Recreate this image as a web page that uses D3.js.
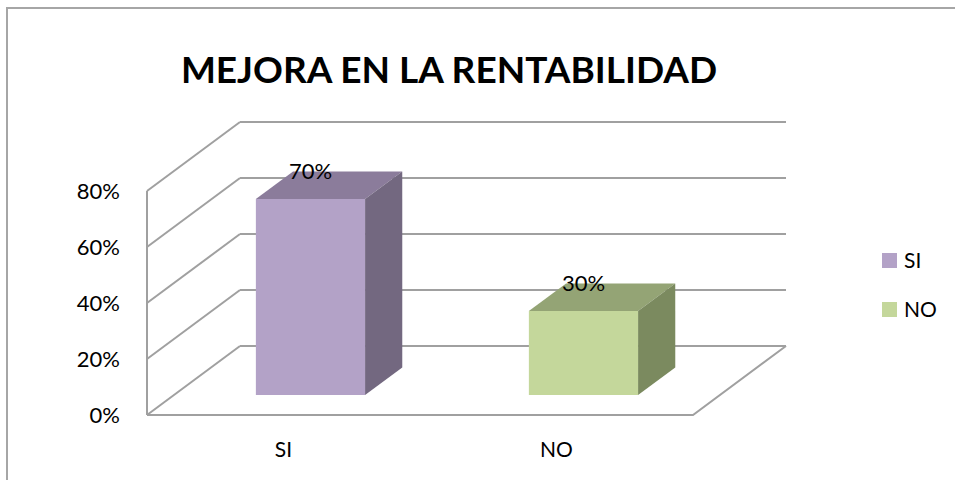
<!DOCTYPE html>
<html>
<head>
<meta charset="utf-8">
<script src="https://cdn.jsdelivr.net/npm/d3@7"></script>
<style>
  body { margin: 0; background: #fff; }
  text { font-family: Lato, "Open Sans", sans-serif; fill: #000; }
</style>
</head>
<body>
<script>
// chart values
var categories = ["SI", "NO"];
var values = [0.70, 0.30];
var yTicks = [0, 0.2, 0.4, 0.6, 0.8];
var frontColors = ["#b3a2c7", "#c4d79b"];
var topColors = ["#8b7c9b", "#94a475"];
var sideColors = ["#736880", "#7b8a5f"];

var width = 955,
    height = 480;

var svg = d3.select("body").append("svg")
    .attr("width", width)
    .attr("height", height);

// outer chart border (runs off the right and bottom edge)
svg.append("rect")
    .attr("x", 7).attr("y", 8)
    .attr("width", 1000).attr("height", 600)
    .attr("fill", "none")
    .attr("stroke", "#a6a6a6")
    .attr("stroke-width", 2);

svg.append("text")
    .attr("x", 449).attr("y", 83)
    .attr("text-anchor", "middle")
    .style("font-weight", "bold")
    .style("font-size", "37px")
    .text("MEJORA EN LA RENTABILIDAD");

// scales: x along the front floor edge, y on the front plane, z = depth 0..1
var x = d3.scaleBand().domain(categories).range([147, 693]);
var y = d3.scaleLinear().domain([0, 0.8]).range([415, 191]);
var depthX = d3.scaleLinear().domain([0, 1]).range([0, 93]);
var depthY = d3.scaleLinear().domain([0, 1]).range([0, -69]);

function pt(px, py, z) {
    return [px + depthX(z), py + depthY(z)];
}

var grid = svg.append("g")
    .attr("fill", "none")
    .attr("stroke", "#a0a0a0")
    .attr("stroke-width", 2);

var x0 = x.range()[0], x1 = x.range()[1];

// back wall gridlines
grid.selectAll(".back").data(yTicks).enter().append("line")
    .attr("x1", pt(x0, y(0), 1)[0])
    .attr("x2", pt(x1, y(0), 1)[0])
    .attr("y1", d => pt(x0, y(d), 1)[1])
    .attr("y2", d => pt(x0, y(d), 1)[1]);

// side wall diagonals
grid.selectAll(".side").data(yTicks).enter().append("line")
    .attr("x1", x0)
    .attr("y1", d => y(d))
    .attr("x2", pt(x0, y(0), 1)[0])
    .attr("y2", d => pt(x0, y(d), 1)[1]);

// front vertical axis line
grid.append("line")
    .attr("x1", x0).attr("x2", x0)
    .attr("y1", y(0)).attr("y2", y(0.8));

// floor front edge and right edge
grid.append("path")
    .attr("d", d3.line()([[x0, y(0)], [x1, y(0)], pt(x1, y(0), 1)]));

// y labels
svg.selectAll(".ylab").data(yTicks).enter().append("text")
    .attr("x", 120)
    .attr("y", d => y(d))
    .attr("dy", "0.35em")
    .attr("text-anchor", "end")
    .style("font-size", "22px")
    .text(d => d3.format(".0%")(d));

// category labels
svg.selectAll(".xlab").data(categories).enter().append("text")
    .attr("x", d => x(d) + x.bandwidth() / 2)
    .attr("y", 450)
    .attr("dy", "0.35em")
    .attr("text-anchor", "middle")
    .style("font-size", "21px")
    .text(d => d);

// 3d bars
var barW = x.bandwidth() * 0.4;
var zFront = 0.29, zBack = 0.69;

var bars = svg.selectAll(".bar").data(categories).enter().append("g");

bars.each(function(d, i) {
    var g = d3.select(this);
    var left = x(d) + (x.bandwidth() - barW) / 2;
    var right = left + barW;
    var top = y(values[i]), bottom = y(0);
    var fl = pt(left, bottom, zFront), ft = pt(left, top, zFront);
    var fr = pt(right, top, zFront), fb = pt(right, bottom, zFront);
    var bt = pt(left, top, zBack), br = pt(right, top, zBack), bb = pt(right, bottom, zBack);

    g.append("path")
        .attr("d", d3.line()([ft, fr, br, bt]) + "Z")
        .attr("fill", topColors[i]);
    g.append("path")
        .attr("d", d3.line()([fr, br, bb, fb]) + "Z")
        .attr("fill", sideColors[i]);
    g.append("path")
        .attr("d", d3.line()([fl, ft, fr, fb]) + "Z")
        .attr("fill", frontColors[i]);

    g.append("text")
        .attr("x", (fl[0] + fb[0]) / 2)
        .attr("y", bt[1])
        .attr("dy", "0.35em")
        .attr("text-anchor", "middle")
        .style("font-size", "22px")
        .text(d3.format(".0%")(values[i]));
});

// legend
var legend = svg.selectAll(".legend").data(categories).enter().append("g")
    .attr("transform", (d, i) => "translate(882," + (253 + i * 49) + ")");

legend.append("rect")
    .attr("width", 15).attr("height", 15)
    .attr("fill", (d, i) => frontColors[i]);

legend.append("text")
    .attr("x", 22).attr("y", 8)
    .attr("dy", "0.35em")
    .style("font-size", "21px")
    .text(d => d);
</script>
</body>
</html>
